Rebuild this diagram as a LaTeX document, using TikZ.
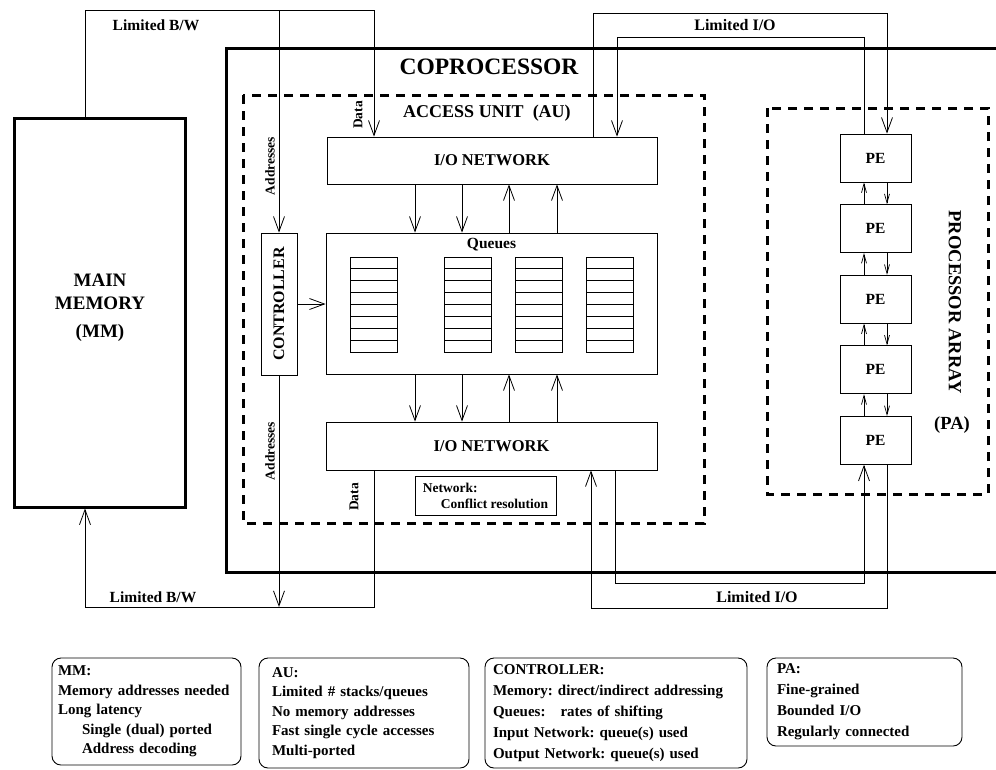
\documentclass[tikz,border=0pt]{standalone}
\usepackage{fontspec}
\setmainfont{Liberation Serif}
\usetikzlibrary{arrows.meta}
\frenchspacing

\tikzset{
  unit/.style={draw, line width=0.8pt, inner sep=0pt},
  heavy/.style={line width=3pt},
  region/.style={line width=3pt, dash pattern=on 9pt off 7pt},
  wire/.style={line width=0.8pt},
  link/.style={line width=0.8pt, -{Straight Barb[length=15pt,width=11pt]}},
  pelink/.style={line width=0.7pt, -{Straight Barb[length=9pt,width=5pt]}},
  tag/.style={inner sep=0pt, font=\bfseries\fontsize{15.5}{18}\selectfont},
  small/.style={inner sep=0pt, font=\bfseries\fontsize{13.5}{16}\selectfont},
  note/.style={draw, rounded corners=9pt, line width=0.9pt, align=left,
    inner ysep=0pt, font=\bfseries\fontsize{15}{19.5}\selectfont},
}

\begin{document}
\begin{tikzpicture}[x=1pt,y=-1pt]
  \useasboundingbox (0,0) rectangle (996,769);

  % Coordinates of the rails and columns
  \coordinate (bwrail) at (0,10);
  \coordinate (bwrailb) at (0,607);
  \coordinate (mmcol) at (85,0);
  \coordinate (datacol) at (374,0);
  \coordinate (iorailA) at (0,13);
  \coordinate (iorailB) at (0,37);
  \coordinate (iorailC) at (0,583);
  \coordinate (iorailD) at (0,608);
  \coordinate (ioL1) at (593,0);
  \coordinate (ioL2) at (617,0);
  \coordinate (ioL3) at (615,0);
  \coordinate (ioL4) at (591,0);
  \coordinate (peL) at (864,0);
  \coordinate (peR) at (887,0);
  \coordinate (col1) at (415,0);
  \coordinate (col2) at (462,0);
  \coordinate (col3) at (509,0);
  \coordinate (col4) at (557,0);

  % Main memory
  \node[unit, heavy, minimum width=171pt, minimum height=389pt] (mm) at (99.5,312.5) {};
  \node[tag, align=center, font=\bfseries\fontsize{19}{23}\selectfont] (mmlabel) at (100,308)
    {MAIN\\MEMORY\\[5pt](MM)};

  % Coprocessor
  \draw[heavy] (996,48) -| (226,572) -- (996,572);
  \node[tag, font=\bfseries\fontsize{23.5}{26}\selectfont] (coplabel) at (489,67) {COPROCESSOR};

  % Access unit
  \draw[region] (243,95) rectangle (704,523);
  \node[tag, font=\bfseries\fontsize{18}{20}\selectfont] (aulabel) at (487,113) {ACCESS UNIT\ \ (AU)};
  \node[unit, tag, font=\bfseries\fontsize{16.5}{18}\selectfont, minimum width=330pt, minimum height=47pt] (ionet) at (492,160.5) {I/O NETWORK};
  \node[unit, minimum width=331pt, minimum height=141pt] (queues) at (491.5,303.5) {};
  \node[tag, anchor=north] (qlabel) at ([yshift=-5pt]queues.north) {Queues};
  \foreach \qx in {350,444,515,586} {
    \draw[wire] (\qx,257) rectangle ++(47.5,95);
    \foreach \r in {1,...,7}
      \draw[wire] (\qx,257+11.875*\r) -- ++(47.5,0);
  }
  \node[unit, minimum width=36pt, minimum height=142pt] (ctrl) at (279,304) {};
  \node[tag, rotate=90, font=\bfseries\fontsize{16}{18}\selectfont] (ctrllabel) at (ctrl.center) {CONTROLLER};
  \node[unit, tag, font=\bfseries\fontsize{16.5}{18}\selectfont, minimum width=331pt, minimum height=48pt] (ionetb) at (491.5,446) {I/O NETWORK};
  \node[unit, small, align=left, minimum width=141pt, minimum height=39pt] (netnote) at (485.5,495.5)
    {Network:\\\hspace*{18pt}Conflict resolution};

  \draw[link] (ctrl.east) -- (ctrl.east -| queues.west);
  \foreach \c in {col1,col2} {
    \draw[link] (ionet.south -| \c) -- (queues.north -| \c);
    \draw[link] (queues.south -| \c) -- (ionetb.north -| \c);
  }
  \foreach \c in {col3,col4} {
    \draw[link] (queues.north -| \c) -- (ionet.south -| \c);
    \draw[link] (ionetb.north -| \c) -- (queues.south -| \c);
  }

  % Processor array
  \draw[region] (767,108) rectangle (988,494);
  \foreach \i in {1,...,5}
    \node[unit, tag, minimum width=71pt, minimum height=48pt] (pe\i) at (875.5,{158+70.6*(\i-1)}) {PE};
  \foreach \i/\j in {1/2,2/3,3/4,4/5} {
    \draw[pelink] (pe\j.north -| peL) -- (pe\i.south -| peL);
    \draw[pelink] (pe\i.south -| peR) -- (pe\j.north -| peR);
  }
  \node[tag, rotate=-90, font=\bfseries\fontsize{18.5}{20}\selectfont] (palabel) at (955,302) {PROCESSOR ARRAY};
  \node[tag, font=\bfseries\fontsize{18.5}{20}\selectfont] (paname) at (952,425) {(PA)};

  % Memory traffic
  \draw[link] (mm.north -| mmcol) |- (bwrail -| datacol) -- (ionet.north -| datacol);
  \draw[link] (bwrail -| ctrl.north) -- (ctrl.north);
  \draw[link] (ctrl.south) -- (bwrailb -| ctrl.south);
  \draw[link] (ionetb.south -| datacol) |- (bwrailb -| mmcol) -- (mm.south -| mmcol);
  \node[tag] (bwtop) at (156,25) {Limited B/W};
  \node[tag] (bwbot) at (153,597) {Limited B/W};
  \node[small, rotate=90] (addrtop) at (270,166) {Addresses};
  \node[small, rotate=90] (addrbot) at (270,451) {Addresses};
  \node[small, rotate=90] (datatop) at (358,115) {Data};
  \node[small, rotate=90] (databot) at (354,497) {Data};

  % Array traffic
  \draw[link] (ionet.north -| ioL1) |- (iorailA -| peR) -- (pe1.north -| peR);
  \draw[link] (pe1.north -| peL) |- (iorailB -| ioL2) -- (ionet.north -| ioL2);
  \draw[link] (ionetb.south -| ioL3) |- (iorailC -| peL) -- (pe5.south -| peL);
  \draw[link] (pe5.south -| peR) |- (iorailD -| ioL4) -- (ionetb.south -| ioL4);
  \node[tag, font=\bfseries\fontsize{16}{18}\selectfont] (iotop) at (735,25) {Limited I/O};
  \node[tag, font=\bfseries\fontsize{16}{18}\selectfont] (iobot) at (757,597) {Limited I/O};

  % Notes
  \node[note, inner xsep=6pt, text width=177pt, minimum height=107pt] (mmnote) at (146.5,711.5)
    {MM:\\Memory addresses needed\\Long latency\\\hspace*{24pt}Single (dual) ported\\\hspace*{24pt}Address decoding};
  \node[note, inner xsep=13pt, text width=184pt, minimum height=110pt] (aunote) at (364,713)
    {AU:\\Limited \# stacks/queues\\No memory addresses\\Fast single cycle accesses\\Multi-ported};
  \node[note, inner xsep=8pt, text width=246pt, minimum height=110pt,
    font=\bfseries\fontsize{15}{21}\selectfont] (ctrlnote) at (616,713)
    {CONTROLLER:\\Memory: direct/indirect addressing\\Queues:\quad rates of shifting\\Input Network: queue(s) used\\Output Network: queue(s) used};
  \node[note, inner xsep=10pt, text width=175pt, minimum height=88pt,
    font=\bfseries\fontsize{15}{21}\selectfont] (panote) at (864.5,702)
    {PA:\\Fine-grained\\Bounded I/O\\Regularly connected};
\end{tikzpicture}
\end{document}
